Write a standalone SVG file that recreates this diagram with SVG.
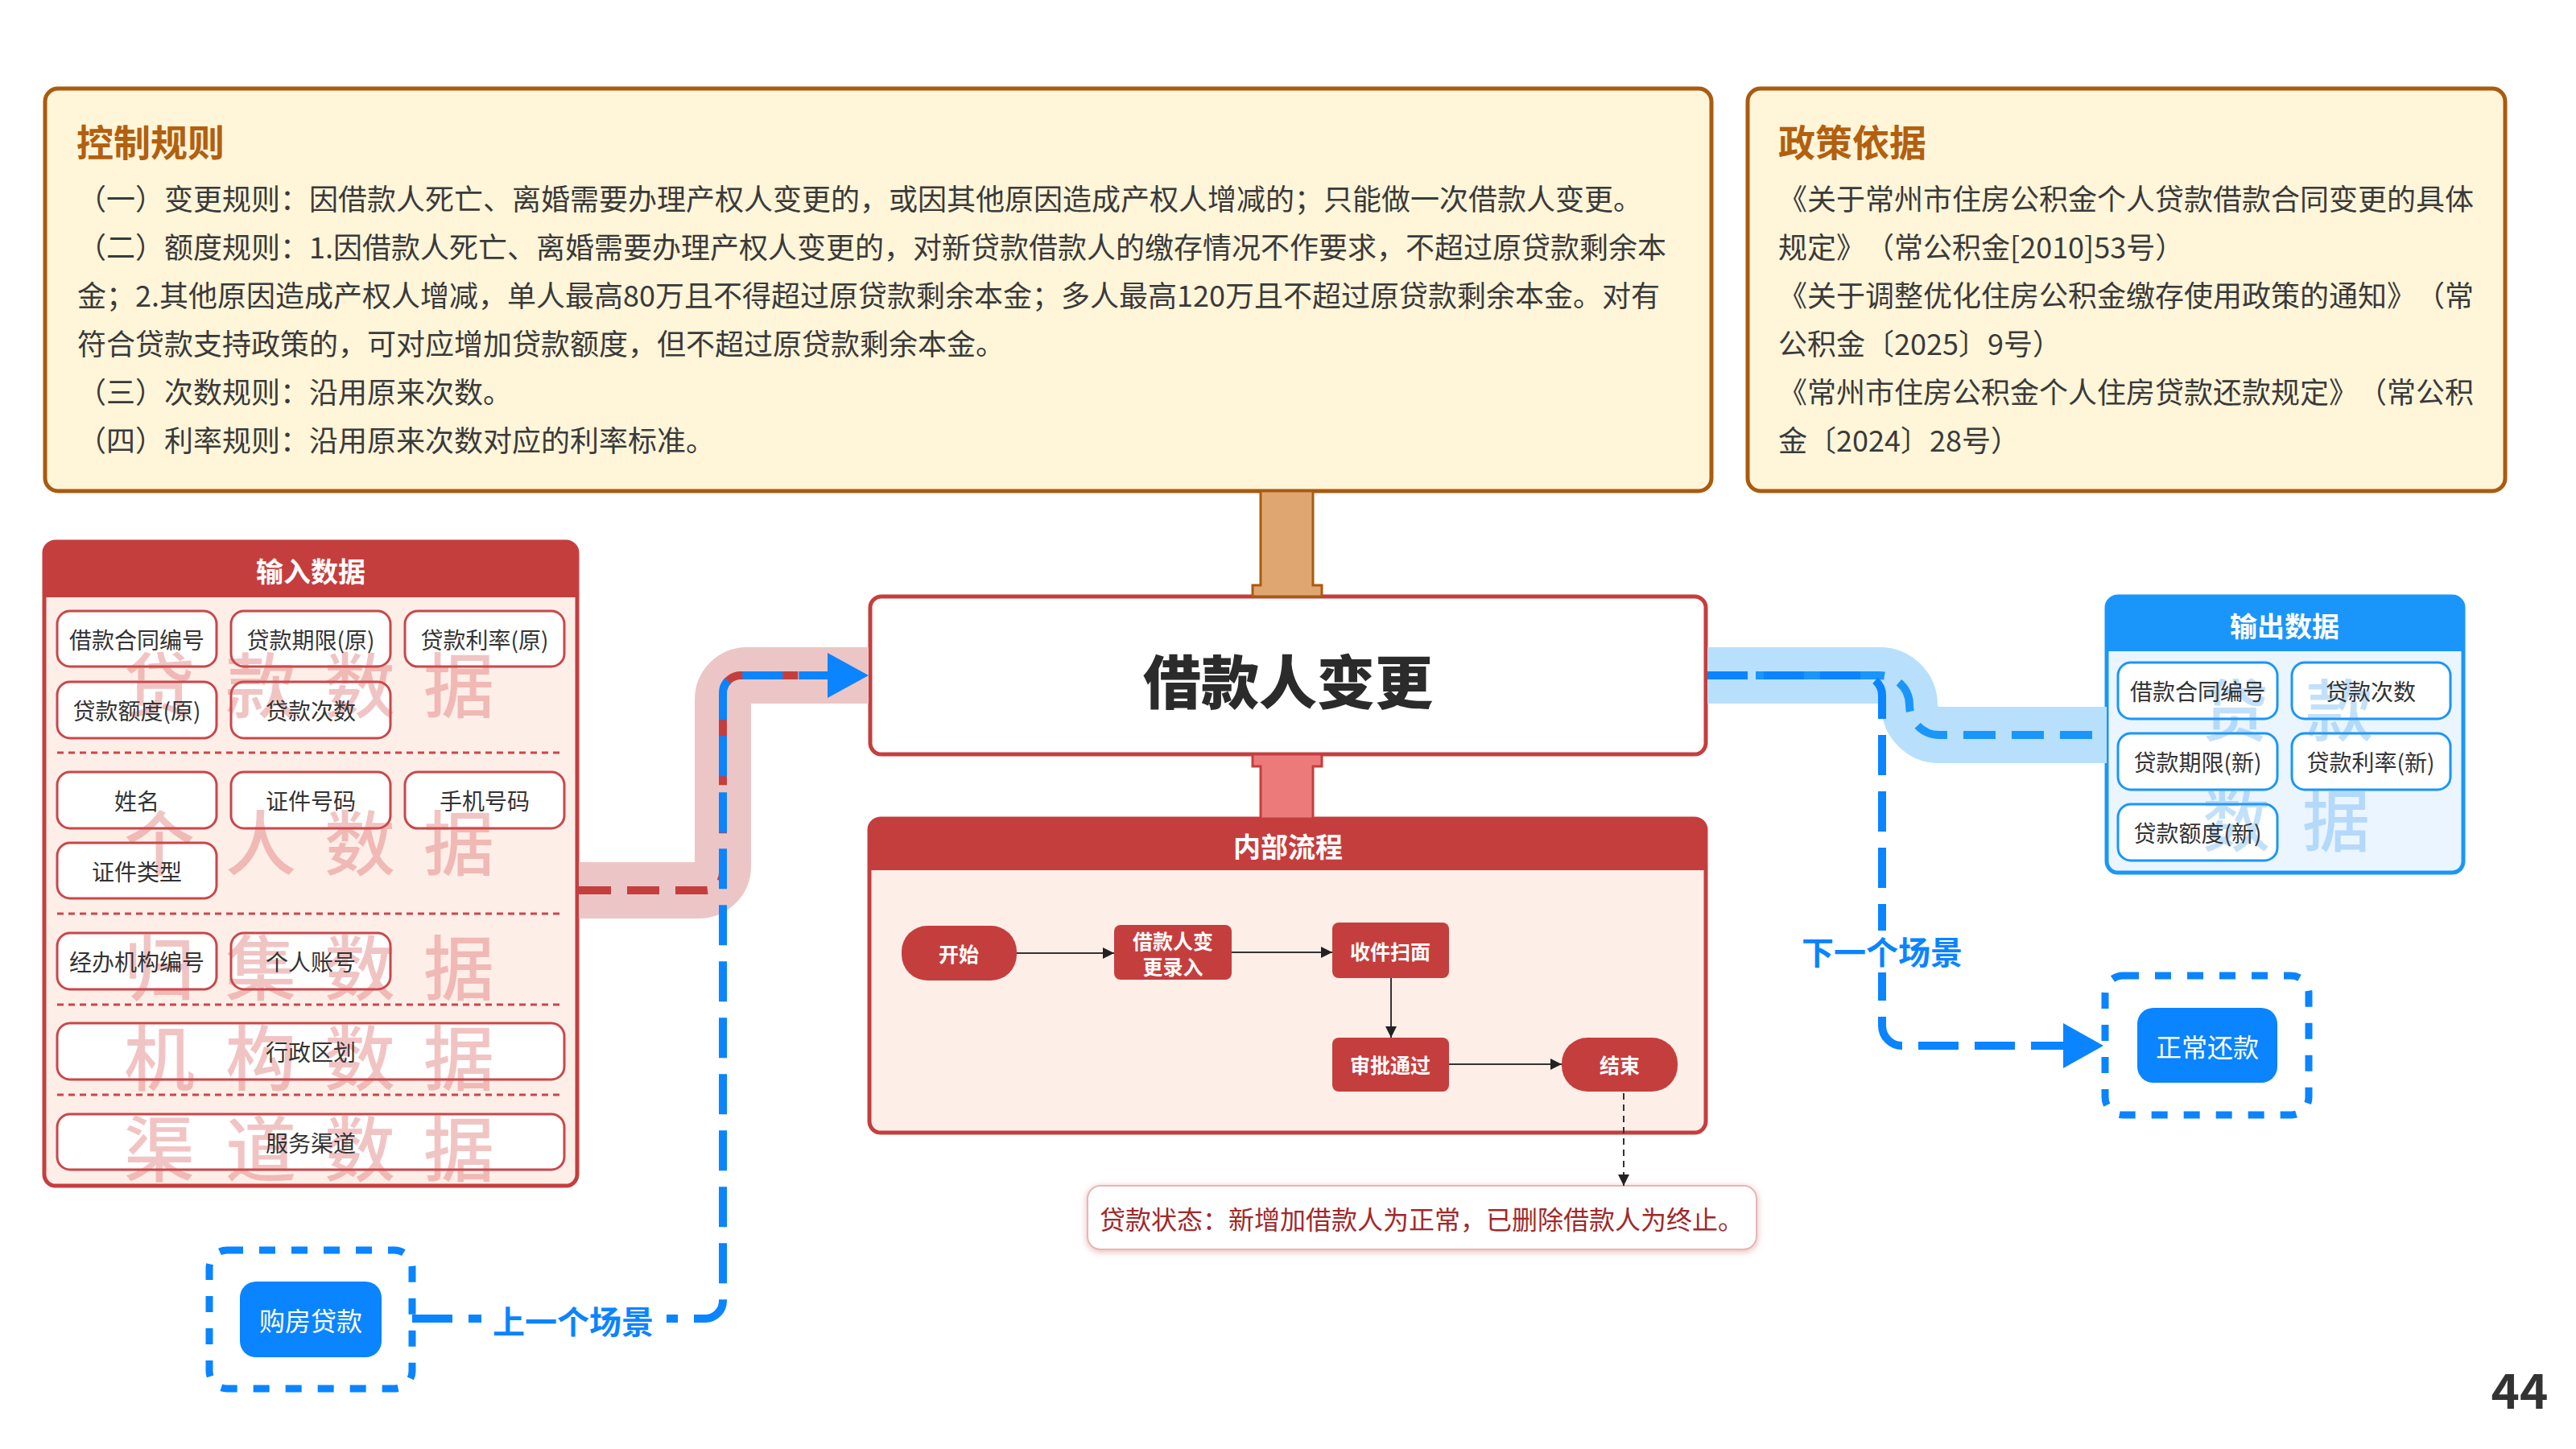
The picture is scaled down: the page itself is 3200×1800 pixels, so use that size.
<svg xmlns="http://www.w3.org/2000/svg" width="3200" height="1800" viewBox="0 0 3200 1800">
<style>
text { font-family: 'Noto Sans CJK SC', 'Noto Sans', sans-serif; text-spacing-trim: space-all; }
.para { font-size: 36px; fill: #3a3a3a; dominant-baseline: central; }
.ttl { font-size: 46px; font-weight: 700; fill: #B2600F; dominant-baseline: central; }
.box { fill: #FFF5D9; stroke: #A95B0F; stroke-width: 5; }
.hdr { font-size: 34px; font-weight: 700; fill: #fff; text-anchor: middle; dominant-baseline: central; }
.item { fill: #fff; stroke: #C9474A; stroke-width: 3; }
.bitem { fill: #fff; stroke: #1A96FA; stroke-width: 3; }
.itxt { font-size: 28px; fill: #333; text-anchor: middle; dominant-baseline: central; }
.wmr { font-size: 88px; font-weight: 500; fill: #D65050; opacity: 0.33; text-anchor: middle; dominant-baseline: central; }
.wmb { font-size: 84px; font-weight: 500; fill: #3A9BEF; opacity: 0.3; text-anchor: middle; dominant-baseline: central; }
.sep { stroke: #C9474A; stroke-width: 3; stroke-dasharray: 8 6; fill: none; }
.fnode { fill: #C53E3E; }
.ftxt { font-size: 25px; font-weight: 700; fill: #fff; text-anchor: middle; dominant-baseline: central; }
.flow { stroke: #333; stroke-width: 2; fill: none; marker-end: url(#ah); }
.scn { font-size: 40px; font-weight: 700; fill: #0A84FF; text-anchor: middle; dominant-baseline: central; }
.bnode { fill: #0A84FF; }
.bdash { fill: none; stroke: #0A84FF; stroke-width: 9; stroke-dasharray: 20 20; }
.btxt { font-size: 32px; fill: #fff; text-anchor: middle; dominant-baseline: central; }
</style>
<defs>
<marker id="ah" viewBox="0 0 10 10" refX="10" refY="5" markerWidth="14" markerHeight="14" markerUnits="userSpaceOnUse" orient="auto">
<path d="M0,0 L10,5 L0,10 z" fill="#222"/>
</marker>
<filter id="glow" x="-5%" y="-30%" width="110%" height="160%">
<feDropShadow dx="0" dy="2" stdDeviation="4" flood-color="#D07070" flood-opacity="0.5"/>
</filter>
</defs>
<rect width="3200" height="1800" fill="#fff"/>

<g id="control-rules">
<rect class="box" x="56" y="110" width="2070" height="500" rx="16"/>
<text class="ttl" x="95" y="174">控制规则</text>
<text class="para" x="96" y="245">（一）变更规则：因借款人死亡、离婚需要办理产权人变更的，或因其他原因造成产权人增减的；只能做一次借款人变更。</text>
<text class="para" x="96" y="305">（二）额度规则：1.因借款人死亡、离婚需要办理产权人变更的，对新贷款借款人的缴存情况不作要求，不超过原贷款剩余本</text>
<text class="para" x="96" y="365">金；2.其他原因造成产权人增减，单人最高80万且不得超过原贷款剩余本金；多人最高120万且不超过原贷款剩余本金。对有</text>
<text class="para" x="96" y="425">符合贷款支持政策的，可对应增加贷款额度，但不超过原贷款剩余本金。</text>
<text class="para" x="96" y="485">（三）次数规则：沿用原来次数。</text>
<text class="para" x="96" y="545">（四）利率规则：沿用原来次数对应的利率标准。</text>
</g>

<g id="policy-basis">
<rect class="box" x="2171" y="110" width="941" height="500" rx="16"/>
<text class="ttl" x="2209" y="174">政策依据</text>
<text class="para" x="2209" y="245">《关于常州市住房公积金个人贷款借款合同变更的具体</text>
<text class="para" x="2209" y="305">规定》（常公积金[2010]53号）</text>
<text class="para" x="2209" y="365">《关于调整优化住房公积金缴存使用政策的通知》（常</text>
<text class="para" x="2209" y="425">公积金〔2025〕9号）</text>
<text class="para" x="2209" y="485">《常州市住房公积金个人住房贷款还款规定》（常公积</text>
<text class="para" x="2209" y="545">金〔2024〕28号）</text>
</g>

<g id="input-data">
<rect x="55" y="673" width="662" height="800" rx="14" fill="#FDEEE8" stroke="#C53E3E" stroke-width="5"/>
<path d="M55,742 V687 A14,14 0 0 1 69,673 H703 A14,14 0 0 1 717,687 V742 Z" fill="#C53E3E"/>
<text class="hdr" x="386" y="708">输入数据</text>
<rect class="item" x="71" y="759" width="198" height="69" rx="16"/>
<rect class="item" x="287" y="759" width="198" height="69" rx="16"/>
<rect class="item" x="503" y="759" width="198" height="69" rx="16"/>
<rect class="item" x="71" y="847" width="198" height="70" rx="16"/>
<rect class="item" x="287" y="847" width="198" height="70" rx="16"/>
<line class="sep" x1="71" y1="935" x2="701" y2="935"/>
<rect class="item" x="71" y="959" width="198" height="70" rx="16"/>
<rect class="item" x="287" y="959" width="198" height="70" rx="16"/>
<rect class="item" x="503" y="959" width="198" height="70" rx="16"/>
<rect class="item" x="71" y="1047" width="198" height="69" rx="16"/>
<line class="sep" x1="71" y1="1135" x2="701" y2="1135"/>
<rect class="item" x="71" y="1159" width="198" height="70" rx="16"/>
<rect class="item" x="287" y="1159" width="198" height="70" rx="16"/>
<line class="sep" x1="71" y1="1248" x2="701" y2="1248"/>
<rect class="item" x="71" y="1271" width="630" height="70" rx="16"/>
<line class="sep" x1="71" y1="1360" x2="701" y2="1360"/>
<rect class="item" x="71" y="1384" width="630" height="69" rx="16"/>
<text class="wmr" x="198 324 447 570" y="845">贷款数据</text>
<text class="wmr" x="198 324 447 570" y="1041">个人数据</text>
<text class="wmr" x="198 324 447 570" y="1196">归集数据</text>
<text class="wmr" x="198 324 447 570" y="1308">机构数据</text>
<text class="wmr" x="198 324 447 570" y="1421">渠道数据</text>
<text class="itxt" x="170" y="794">借款合同编号</text>
<text class="itxt" x="386" y="794">贷款期限(原)</text>
<text class="itxt" x="602" y="794">贷款利率(原)</text>
<text class="itxt" x="170" y="882">贷款额度(原)</text>
<text class="itxt" x="386" y="882">贷款次数</text>
<text class="itxt" x="170" y="994">姓名</text>
<text class="itxt" x="386" y="994">证件号码</text>
<text class="itxt" x="602" y="994">手机号码</text>
<text class="itxt" x="170" y="1082">证件类型</text>
<text class="itxt" x="170" y="1194">经办机构编号</text>
<text class="itxt" x="386" y="1194">个人账号</text>
<text class="itxt" x="386" y="1306">行政区划</text>
<text class="itxt" x="386" y="1419">服务渠道</text>
</g>

<g id="main-node">
<rect x="1081" y="741" width="1038" height="196" rx="14" fill="#fff" stroke="#C53E3E" stroke-width="5"/>
<text x="1600" y="842" font-size="72" font-weight="900" fill="#2B2B2B" text-anchor="middle" dominant-baseline="central">借款人变更</text>
</g>

<g id="internal-process">
<rect x="1080" y="1017" width="1039" height="390" rx="14" fill="#FDEEE8" stroke="#C53E3E" stroke-width="5"/>
<path d="M1080,1081 V1031 A14,14 0 0 1 1094,1017 H2105 A14,14 0 0 1 2119,1031 V1081 Z" fill="#C53E3E"/>
<text class="hdr" x="1600" y="1050">内部流程</text>
<g id="flow-start"><rect class="fnode" x="1120" y="1150" width="143" height="68" rx="32"/><text class="ftxt" x="1191" y="1184">开始</text></g>
<g id="flow-entry"><rect class="fnode" x="1384" y="1149" width="146" height="68" rx="8"/><text class="ftxt" x="1457" y="1168">借款人变</text><text class="ftxt" x="1457" y="1200">更录入</text></g>
<g id="flow-scan"><rect class="fnode" x="1655" y="1146" width="145" height="69" rx="8"/><text class="ftxt" x="1727" y="1181">收件扫面</text></g>
<g id="flow-approve"><rect class="fnode" x="1655" y="1289" width="145" height="67" rx="8"/><text class="ftxt" x="1727" y="1322">审批通过</text></g>
<g id="flow-end"><rect class="fnode" x="1940" y="1289" width="144" height="67" rx="32"/><text class="ftxt" x="2012" y="1322">结束</text></g>
</g>

<g id="loan-status">
<rect x="1351" y="1473" width="831" height="79" rx="16" fill="#fff" stroke="#E9B5B5" stroke-width="2" filter="url(#glow)"/>
<text x="1766" y="1513" font-size="32" fill="#A0292B" text-anchor="middle" dominant-baseline="central">贷款状态：新增加借款人为正常，已删除借款人为终止。</text>
</g>

<g id="output-data">
<rect x="2617" y="741" width="443" height="343" rx="14" fill="#EAF5FF" stroke="#1A96FA" stroke-width="5"/>
<path d="M2617,809 V755 A14,14 0 0 1 2631,741 H3046 A14,14 0 0 1 3060,755 V809 Z" fill="#1A96FA"/>
<text class="hdr" x="2838" y="776">输出数据</text>
<rect class="bitem" x="2631" y="823" width="198" height="70" rx="16"/>
<rect class="bitem" x="2847" y="823" width="197" height="70" rx="16"/>
<rect class="bitem" x="2631" y="911" width="198" height="70" rx="16"/>
<rect class="bitem" x="2847" y="911" width="197" height="70" rx="16"/>
<rect class="bitem" x="2631" y="999" width="198" height="70" rx="16"/>
<text class="wmb" x="2776 2906" y="877">贷款</text>
<text class="wmb" x="2778 2902" y="1014">数据</text>
<text class="itxt" x="2730" y="858">借款合同编号</text>
<text class="itxt" x="2945" y="858">贷款次数</text>
<text class="itxt" x="2730" y="946">贷款期限(新)</text>
<text class="itxt" x="2945" y="946">贷款利率(新)</text>
<text class="itxt" x="2730" y="1034">贷款额度(新)</text>
</g>

<g id="prev-scene">
<rect class="bdash" x="260" y="1553" width="252" height="172" rx="22"/>
<rect class="bnode" x="298" y="1592" width="176" height="94" rx="20"/>
<text class="btxt" x="386" y="1639">购房贷款</text>
</g>

<g id="next-scene">
<rect class="bdash" x="2615" y="1212" width="253" height="173" rx="22"/>
<rect class="bnode" x="2655" y="1252" width="174" height="93" rx="20"/>
<text class="btxt" x="2742" y="1299">正常还款</text>
</g>

<g id="connectors">
<path d="M1566,610 V727 H1556 V741 H1642 V727 H1631 V610 Z" fill="#E0A672" stroke="#A95B0F" stroke-width="3"/>
<path d="M1556,937 V952 H1566 V1017 H1631 V952 H1642 V937 Z" fill="#EC7A7A" stroke="#C53E3E" stroke-width="3"/>
<path d="M719,1106 H868 A30,30 0 0 0 898,1076 V869 A30,30 0 0 1 928,839 H1079" fill="none" stroke="#ECC6C6" stroke-width="70"/>
<path d="M719,1106 H876 A22,22 0 0 0 898,1084 V861 A22,22 0 0 1 920,839 H1030" fill="none" stroke="#C53E3E" stroke-width="10" stroke-dasharray="40 20"/>
<path d="M2121,839 H2335 A37,37 0 0 1 2372,876 A37,37 0 0 0 2409,913 H2617" fill="none" stroke="#B8E0FC" stroke-width="70"/>
<path d="M2121,839 H2335 A37,37 0 0 1 2372,876 A37,37 0 0 0 2409,913 H2617" fill="none" stroke="#1A96FA" stroke-width="10" stroke-dasharray="40 20"/>
<path d="M512,1638 H876 A22,22 0 0 0 898,1616 V861 A22,22 0 0 1 920,839 H1030" fill="none" stroke="#0A84FF" stroke-width="10" stroke-dasharray="50 20"/>
<polygon points="1028,811 1079,839 1028,867" fill="#0A84FF"/>
<path d="M2121,839 H2313 A25,25 0 0 1 2338,864 V1274 A25,25 0 0 0 2363,1299 H2566" fill="none" stroke="#0A84FF" stroke-width="10" stroke-dasharray="50 20"/>
<polygon points="2563,1271 2613,1299 2563,1327" fill="#0A84FF"/>
<rect x="598" y="1614" width="230" height="52" fill="#fff"/>
<text class="scn" x="712" y="1640">上一个场景</text>
<rect x="2228" y="1156" width="220" height="52" fill="#fff"/>
<text class="scn" x="2338" y="1181">下一个场景</text>
<path class="flow" d="M1263,1184 H1384"/>
<path class="flow" d="M1530,1183 H1655"/>
<path class="flow" d="M1728,1215 V1289"/>
<path class="flow" d="M1800,1322 H1940"/>
<path class="flow" d="M2017,1358 V1473" stroke-dasharray="8 6" stroke="#444"/>
</g>

<text x="3130" y="1750" font-family="'Liberation Sans', Arial, sans-serif" font-size="60" font-weight="700" fill="#333" text-anchor="middle">44</text>
</svg>
